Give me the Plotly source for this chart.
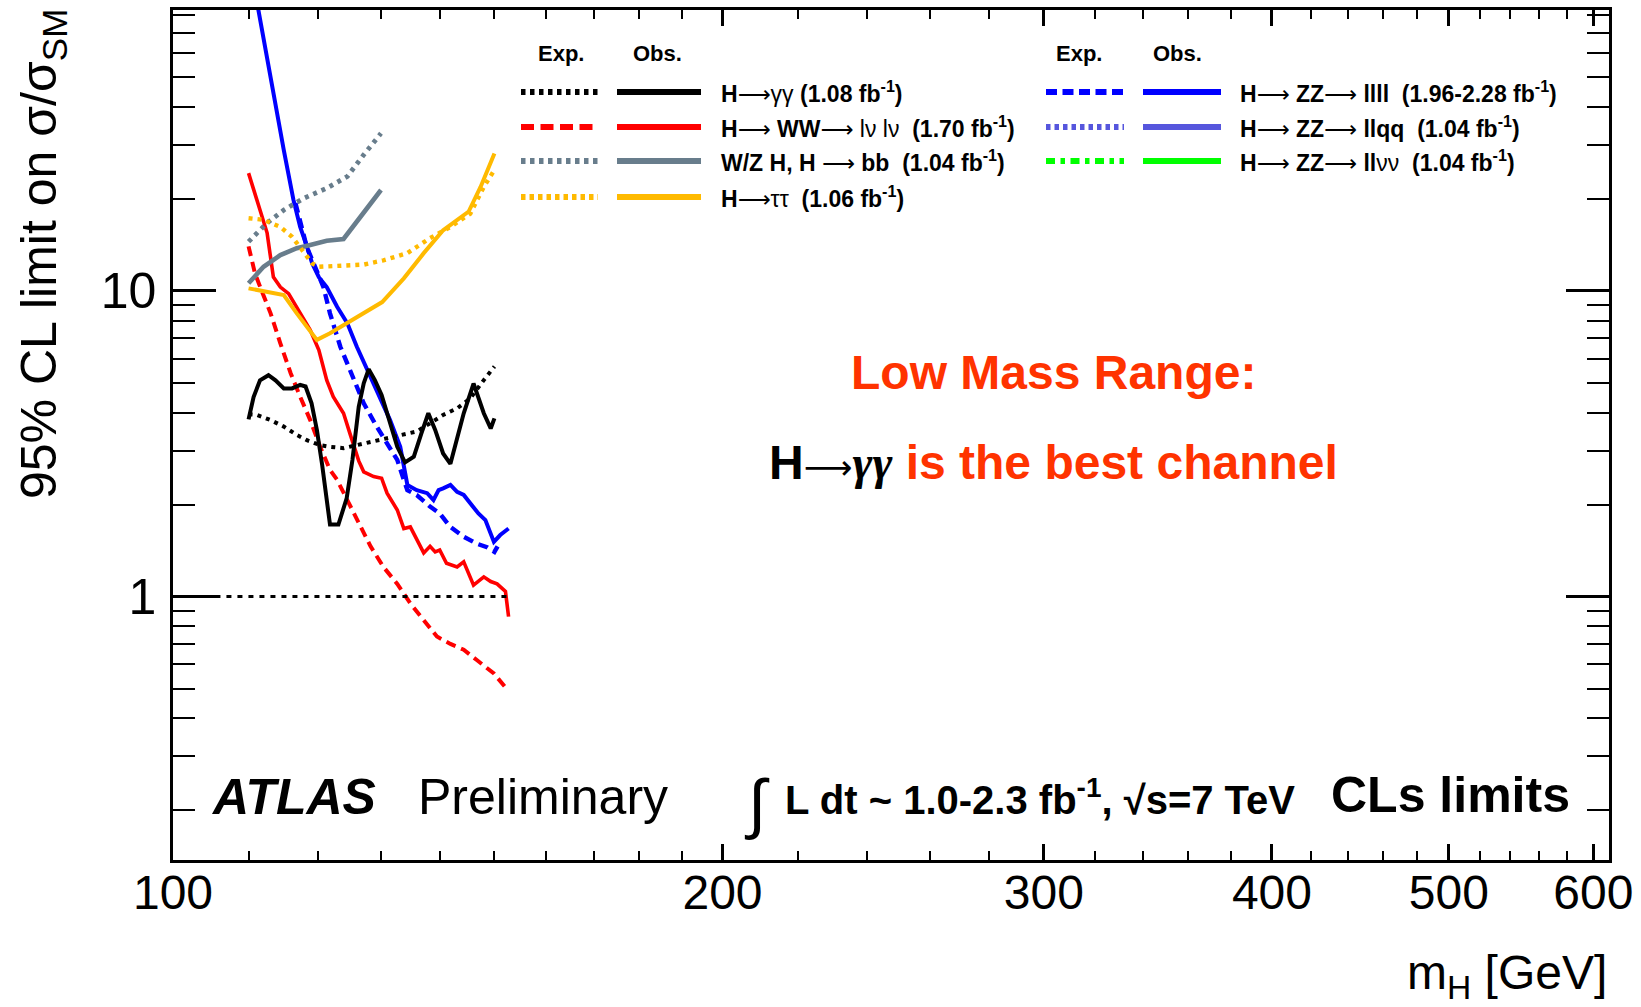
import plotly.graph_objects as go

# ---------------- data: 95% CL limits on sigma/sigma_SM versus m_H [GeV] ----------------
# H -> gamma gamma
gg_exp_m = [110.0, 111.2, 113.1, 115.0, 116.9, 118.4, 120.4, 121.9, 124.0, 126.1, 128.3,
            131.0, 133.8, 136.0, 138.3, 140.6, 143.1, 145.5, 148.0, 150.0]
gg_exp_v = [3.95, 3.93, 3.78, 3.60, 3.38, 3.25, 3.13, 3.09, 3.06, 3.13, 3.21,
            3.30, 3.38, 3.47, 3.69, 3.93, 4.13, 4.45, 5.11, 5.66]
gg_obs_m = [110.0, 110.7, 111.6, 112.8, 113.8, 115.0, 116.2, 117.4, 118.2, 119.1, 119.9,
            120.7, 121.9, 123.2, 124.5, 125.4, 126.4, 127.2, 128.0, 129.0, 130.1, 131.3,
            132.7, 134.0, 135.5, 136.8, 138.0, 139.2, 140.6, 141.9, 143.1, 144.3, 146.1,
            148.0, 149.3, 150.0]
gg_obs_v = [3.80, 4.50, 5.10, 5.30, 5.10, 4.80, 4.80, 4.93, 4.87, 4.29, 3.51,
            2.70, 1.72, 1.72, 2.10, 2.80, 4.18, 4.99, 5.55, 5.11, 4.57, 3.78,
            3.09, 2.75, 2.87, 3.42, 3.98, 3.51, 2.94, 2.72, 3.25, 3.98, 4.98,
            3.98, 3.55, 3.83]

# H -> WW -> lvlv
ww_exp_m = [110.0, 110.9, 111.7, 113.1, 114.5, 116.0, 117.4, 118.9, 120.4, 121.9, 123.0,
            124.6, 126.1, 128.3, 130.4, 132.7, 134.9, 137.2, 139.5, 141.9, 144.3, 146.7,
            149.9, 152.5]
ww_exp_v = [14.0, 11.4, 10.2, 8.45, 6.74, 5.38, 4.51, 3.78, 3.09, 2.60, 2.41,
            2.07, 1.78, 1.46, 1.25, 1.10, 0.95, 0.84, 0.74, 0.70, 0.67, 0.62,
            0.56, 0.495]
ww_obs_m = [110.0, 111.6, 112.6, 113.5, 114.5, 115.7, 117.4, 118.9, 120.2, 121.4, 122.4,
            124.0, 125.0, 126.4, 127.2, 128.8, 130.1, 131.0, 132.7, 133.8, 134.9, 136.0,
            137.2, 138.3, 139.2, 140.0, 141.2, 143.1, 144.3, 146.1, 148.0, 149.3, 150.5,
            152.1, 152.7]
ww_obs_v = [24.3, 18.4, 15.5, 11.1, 10.3, 9.8, 8.45, 7.45, 6.41, 5.11, 4.51,
            3.98, 3.42, 2.78, 2.56, 2.47, 2.44, 2.18, 1.92, 1.67, 1.69, 1.53,
            1.39, 1.46, 1.40, 1.42, 1.285, 1.25, 1.30, 1.09, 1.16, 1.12, 1.10,
            1.04, 0.86]

# H -> ZZ -> llll
zz4l_exp_m = [116.7, 118.4, 120.9, 121.9, 123.5, 125.6, 127.2, 129.3, 131.0, 132.7, 133.8,
              134.4, 136.0, 138.3, 140.0, 141.9, 144.3, 146.7, 148.6, 150.0, 150.6]
zz4l_exp_v = [19.4, 13.9, 10.3, 8.45, 6.57, 5.11, 4.29, 3.60, 3.17, 2.80, 2.41,
              2.23, 2.15, 1.97, 1.87, 1.69, 1.57, 1.49, 1.45, 1.40, 1.46]
zz4l_obs_m = [110.0, 111.4, 113.5, 115.0, 116.4, 117.4, 118.4, 119.2, 120.2, 121.4, 123.0,
              124.6, 126.1, 127.8, 129.9, 131.5, 133.2, 134.0, 134.4, 136.0, 137.8, 138.9,
              139.8, 140.6, 141.9, 143.1, 144.3, 145.5, 147.0, 148.3, 149.9, 151.1, 152.7]
zz4l_obs_v = [125.0, 82.0, 44.4, 28.9, 19.9, 16.2, 14.0, 12.3, 11.1, 10.3, 8.88,
              7.84, 6.57, 5.51, 4.51, 3.78, 3.09, 2.50, 2.32, 2.23, 2.18, 2.07,
              2.23, 2.26, 2.32, 2.20, 2.15, 2.02, 1.87, 1.78, 1.51, 1.59, 1.67]

# W/Z H, H -> bb
bb_exp_m = [110.0, 112.6, 115.0, 117.9, 121.4, 124.6, 127.2, 130.0]
bb_exp_v = [14.5, 16.7, 18.4, 20.1, 21.7, 23.7, 27.9, 32.8]
bb_obs_m = [110.0, 112.1, 114.5, 116.9, 118.9, 121.4, 124.0, 126.1, 128.3, 130.0]
bb_obs_v = [10.6, 12.0, 13.1, 13.8, 14.15, 14.6, 14.8, 16.9, 19.4, 21.4]

# H -> tau tau
tt_exp_m = [110.0, 112.1, 114.5, 116.2, 117.7, 119.2, 120.2, 123.5, 127.2, 130.4, 134.4,
            138.3, 141.9, 145.5, 148.0, 150.0]
tt_exp_v = [17.3, 17.1, 16.2, 15.05, 13.6, 12.3, 12.0, 12.1, 12.2, 12.6, 13.3,
            14.9, 16.2, 17.9, 21.9, 24.9]
tt_obs_m = [110.0, 115.0, 116.9, 118.7, 119.9, 121.9, 124.6, 127.2, 130.2, 133.8, 137.2,
            140.6, 145.2, 147.4, 150.0]
tt_obs_v = [10.2, 9.70, 8.45, 7.45, 6.92, 7.27, 7.84, 8.45, 9.2, 11.0, 13.3,
            15.8, 18.2, 21.9, 28.2]

# Standard Model reference line
sm_m = [105.5, 152.7]
sm_v = [1.0, 1.0]

# axis ticks
x_major = [100, 200, 300, 400, 500, 600]
x_minor = [110, 120, 130, 140, 150, 160, 170, 180, 190, 220, 240, 260, 280,
           320, 340, 360, 380, 420, 440, 460, 480, 520, 540, 560, 580]
y_major = [1, 10]
y_minor = [0.2, 0.3, 0.4, 0.5, 0.6, 0.7, 0.8, 0.9, 2, 3, 4, 5, 6, 7, 8, 9,
           20, 30, 40, 50, 60, 70, 80]

# ---------------- colours ----------------
BLACK = "#000000"
RED = "#FF0000"
BLUE = "#0000FF"
GREY = "#687D8C"
GOLD = "#FFBA00"
LILAC = "#5656DD"
GREEN = "#00FF00"
ACCENT = "#FF3300"
FONT = "Liberation Sans, Arial, Helvetica, sans-serif"

# ---------------- page geometry (pixels) ----------------
FIG_W, FIG_H = 1641, 1007
L, R, T, B = 173, 1609, 10, 860
W, H = R - L, B - T


def xp(px):
    return (px - L) / W


def yp(py):
    return (B - py) / H


fig = go.Figure()


def curve(m, v, color, width, dash="solid"):
    fig.add_trace(go.Scatter(x=m, y=v, mode="lines",
                             line=dict(color=color, width=width, dash=dash),
                             hoverinfo="skip", showlegend=False))


curve(ww_exp_m, ww_exp_v, RED, 4, "10px,6px")
curve(ww_obs_m, ww_obs_v, RED, 3.6)
curve(zz4l_exp_m, zz4l_exp_v, BLUE, 4.4, "10px,6px")
curve(zz4l_obs_m, zz4l_obs_v, BLUE, 4)
curve(bb_exp_m, bb_exp_v, GREY, 4.8, "4px,5px")
curve(bb_obs_m, bb_obs_v, GREY, 4.6)
curve(tt_exp_m, tt_exp_v, GOLD, 4.4, "4px,5px")
curve(tt_obs_m, tt_obs_v, GOLD, 4)
curve(gg_exp_m, gg_exp_v, BLACK, 4, "4px,5px")
curve(gg_obs_m, gg_obs_v, BLACK, 4)
curve(sm_m, sm_v, BLACK, 3, "5px,6px")

# ---------------- legend (two blocks: expected / observed samples) ----------------
shapes = []
annotations = []

ARW = "<span style=\"font-family:'DejaVu Sans',sans-serif;font-weight:normal\">⟶</span>"

left_rows = [
    (BLACK, "4.5px,4.5px", BLACK, "<b>H</b>" + ARW + "γγ <b>(1.08 fb<sup>-1</sup>)</b>"),
    (RED, "13px,6.5px", RED, "<b>H</b>" + ARW + " <b>WW</b>" + ARW + " lν lν  <b>(1.70 fb<sup>-1</sup>)</b>"),
    (GREY, "4.5px,4.5px", GREY, "<b>W/Z H, H</b> " + ARW + " <b>bb  (1.04 fb<sup>-1</sup>)</b>"),
    (GOLD, "4.5px,4px", GOLD, "<b>H</b>" + ARW + "ττ  <b>(1.06 fb<sup>-1</sup>)</b>"),
]
right_rows = [
    (BLUE, "11px,5.5px", BLUE, "<b>H</b>" + ARW + " <b>ZZ</b>" + ARW + " <b>llll  (1.96-2.28 fb<sup>-1</sup>)</b>"),
    (LILAC, "4.5px,4px", LILAC, "<b>H</b>" + ARW + " <b>ZZ</b>" + ARW + " <b>llqq  (1.04 fb<sup>-1</sup>)</b>"),
    (GREEN, "9px,5.5px,4.5px,5.5px", GREEN, "<b>H</b>" + ARW + " <b>ZZ</b>" + ARW + " <b>ll</b>νν  <b>(1.04 fb<sup>-1</sup>)</b>"),
]
row_y = [92, 127, 161, 197]
header_y = 54


def legend_block(rows, exp_x, obs_x, text_x, exp_c, obs_c):
    for (ec, edash, oc, label), y in zip(rows, row_y):
        shapes.append(dict(type="line", xref="paper", yref="paper",
                           x0=xp(exp_x[0]), x1=xp(exp_x[1]), y0=yp(y), y1=yp(y),
                           line=dict(color=ec, width=6, dash=edash)))
        shapes.append(dict(type="line", xref="paper", yref="paper",
                           x0=xp(obs_x[0]), x1=xp(obs_x[1]), y0=yp(y), y1=yp(y),
                           line=dict(color=oc, width=6)))
        annotations.append(dict(x=xp(text_x), y=yp(y), xref="paper", yref="paper",
                                text=label, showarrow=False, xanchor="left",
                                yanchor="middle",
                                font=dict(family=FONT, size=23, color=BLACK)))
    for txt, cx in (("Exp.", exp_c), ("Obs.", obs_c)):
        annotations.append(dict(x=xp(cx), y=yp(header_y), xref="paper", yref="paper",
                                text="<b>" + txt + "</b>", showarrow=False,
                                xanchor="center", yanchor="middle",
                                font=dict(family=FONT, size=22, color=BLACK)))


legend_block(left_rows, (521, 598), (617, 701), 719, 561, 657)
legend_block(right_rows, (1046, 1124), (1143, 1221), 1238, 1079, 1177)

# ---------------- text labels ----------------
def label(text, x, y, size, color=BLACK, xanchor="left", yanchor="middle", angle=0):
    annotations.append(dict(x=x, y=y, xref="paper", yref="paper", text=text,
                            showarrow=False, xanchor=xanchor, yanchor=yanchor,
                            textangle=angle,
                            font=dict(family=FONT, size=size, color=color)))


label("<b>Low Mass Range:</b>", xp(1053), yp(373), 48, ACCENT, xanchor="center")
label("<b>H</b><span style=\"font-family:'DejaVu Sans',sans-serif;font-weight:normal;"
      "font-size:34px\">⟶</span>"
      "<span style=\"font-family:'Liberation Serif',serif\"><b><i>γγ</i></b></span>"
      "<span style=\"color:" + ACCENT + "\"><b> is the best channel</b></span>",
      xp(1053), yp(462), 48, BLACK, xanchor="center")

label("<b><i>ATLAS</i></b>", xp(209), yp(797), 50)
label("Preliminary", xp(416), yp(797), 50)
label("∫", xp(742), yp(803), 66)
label("<b>L dt ~ 1.0-2.3 fb<sup>-1</sup>, √s=7 TeV</b>", xp(783), yp(797), 40)
label("<b>CLs limits</b>", xp(1329), yp(795), 50)

label("95% CL limit on σ/σ<sub>SM</sub>", xp(42), yp(7), 50,
      xanchor="center", yanchor="top", angle=-90)
label("m<sub>H</sub> [GeV]", xp(1609), yp(976), 48, xanchor="right")

fig.update_layout(
    width=FIG_W, height=FIG_H,
    margin=dict(l=L, r=FIG_W - R, t=T, b=FIG_H - B, autoexpand=False),
    paper_bgcolor="white", plot_bgcolor="white",
    shapes=shapes, annotations=annotations,
    showlegend=False,
    xaxis=dict(
        type="log", range=[2.0, 2.7867],
        tickmode="array", tickvals=x_major, ticktext=[str(v) for v in x_major],
        ticks="inside", ticklen=16, tickwidth=2.5, tickcolor=BLACK,
        showline=True, linewidth=2.5, linecolor=BLACK, mirror="ticks",
        showgrid=False, zeroline=False, automargin=False,
        ticklabelstandoff=-11,
        tickfont=dict(family=FONT, size=48, color=BLACK),
        minor=dict(tickmode="array", tickvals=x_minor, ticks="inside", ticklen=9,
                   tickwidth=2, tickcolor=BLACK, showgrid=False),
    ),
    yaxis=dict(
        type="log", range=[-0.862, 1.9195],
        tickmode="array", tickvals=y_major, ticktext=[str(v) for v in y_major],
        ticks="inside", ticklen=43, tickwidth=2.5, tickcolor=BLACK,
        showline=True, linewidth=2.5, linecolor=BLACK, mirror="ticks",
        showgrid=False, zeroline=False, automargin=False,
        ticklabelstandoff=4,
        tickfont=dict(family=FONT, size=50, color=BLACK),
        minor=dict(tickmode="array", tickvals=y_minor, ticks="inside", ticklen=22,
                   tickwidth=2, tickcolor=BLACK, showgrid=False),
    ),
)

fig.write_html("out.html")
